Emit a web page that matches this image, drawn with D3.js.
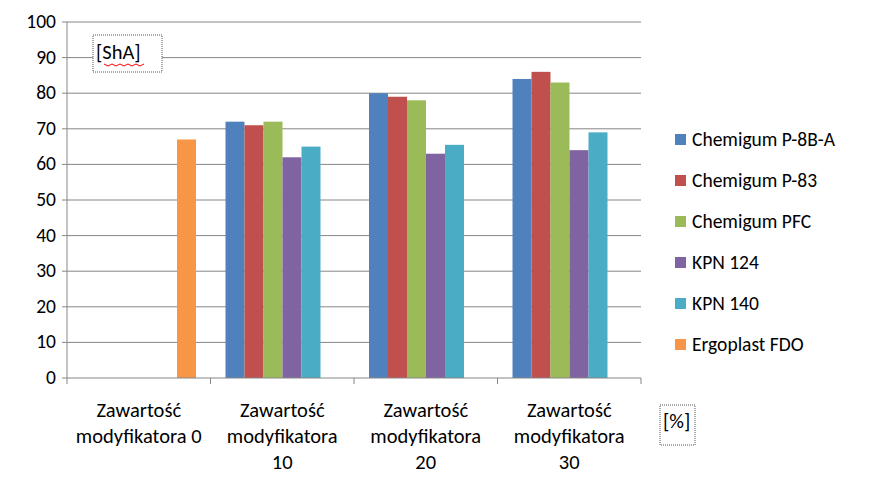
<!DOCTYPE html>
<html><head><meta charset="utf-8">
<script src="https://cdn.jsdelivr.net/npm/d3@7"></script>
<style>body{margin:0;background:#fff;font-family:Calibri,Carlito,"Liberation Sans",Arial,sans-serif}</style>
</head><body><svg id="c" width="879" height="487"></svg>
<script>
const categories = [["Zawartość","modyfikatora 0"],["Zawartość","modyfikatora","10"],["Zawartość","modyfikatora","20"],["Zawartość","modyfikatora","30"]];
const seriesNames = ["Chemigum P-8B-A","Chemigum P-83","Chemigum PFC","KPN 124","KPN 140","Ergoplast FDO"];
const colors = ["#4F81BD","#C0504D","#9BBB59","#8064A2","#4BACC6","#F79646"];
const values = [
  [null,72,80,84],
  [null,71,79,86],
  [null,72,78,83],
  [null,62,63,64],
  [null,65,65.5,69],
  [67,null,null,null]
];
const yTicks = [0,10,20,30,40,50,60,70,80,90,100];

const svg = d3.select("#c");
const L=67,R=641,T=22,B=378;
const y = d3.scaleLinear().domain([0,100]).range([B,T]);
const x0 = d3.scaleBand().domain(d3.range(4)).range([L,R]).paddingInner(0).paddingOuter(0);
const x1 = d3.scaleBand().domain(d3.range(6)).range([15,x0.bandwidth()-14.5]);

svg.append("g").selectAll("line").data(yTicks.slice(1)).join("line")
  .attr("x1",L).attr("x2",R).attr("y1",d=>y(d)).attr("y2",d=>y(d)).attr("stroke","#868686");
svg.append("g").selectAll("text").data(yTicks).join("text")
  .attr("x",L-11).attr("y",d=>y(d)+6).attr("text-anchor","end").attr("font-size",19.5).text(d=>d);
svg.append("g").selectAll("line").data(yTicks).join("line")
  .attr("x1",L-5).attr("x2",L).attr("y1",d=>y(d)).attr("y2",d=>y(d)).attr("stroke","#868686");

values.forEach((vals,s)=>{
  svg.append("g").selectAll("rect").data(vals.map((v,i)=>({v,i})).filter(d=>d.v!=null)).join("rect")
    .attr("x",d=>x0(d.i)+x1(s)).attr("width",x1.bandwidth())
    .attr("y",d=>y(d.v)).attr("height",d=>B-y(d.v)).attr("fill",colors[s]);
});

svg.append("line").attr("x1",L).attr("x2",L).attr("y1",T).attr("y2",B).attr("stroke","#868686");
svg.append("line").attr("x1",L).attr("x2",R).attr("y1",B).attr("y2",B).attr("stroke","#868686");
svg.append("g").selectAll("line").data(d3.range(5)).join("line")
  .attr("x1",d=>L+d*x0.bandwidth()).attr("x2",d=>L+d*x0.bandwidth()).attr("y1",B).attr("y2",B+6).attr("stroke","#868686");

categories.forEach((lines,i)=>{
  const t=svg.append("text").attr("text-anchor","middle").attr("font-size",20.5);
  lines.forEach((ln,k)=>t.append("tspan").attr("x",x0(i)+x0.bandwidth()/2).attr("y",417+k*26).text(ln));
});

const lg=svg.append("g");
seriesNames.forEach((n,i)=>{
  const yy=140+i*41;
  lg.append("rect").attr("x",675).attr("y",yy-6).attr("width",11).attr("height",11).attr("fill",colors[i]);
  lg.append("text").attr("x",692).attr("y",yy+6).attr("font-size",19.5).text(n);
});

svg.append("rect").attr("x",93).attr("y",35).attr("width",69).attr("height",37).attr("fill","#fff")
  .attr("stroke","#555").attr("stroke-dasharray","1,1");
svg.append("text").attr("x",96).attr("y",59).attr("font-size",20.5).text("[ShA]");
svg.append("path").attr("d",d3.range(104,146,4).map((xx,k)=>(k?"L":"M")+xx+","+(64+(k%2?2:0))).join(""))
  .attr("fill","none").attr("stroke","#e00").attr("stroke-width",1);
svg.append("rect").attr("x",660).attr("y",405).attr("width",35).attr("height",40).attr("fill","#fff")
  .attr("stroke","#555").attr("stroke-dasharray","1,1");
svg.append("text").attr("x",663).attr("y",428).attr("font-size",20.5).text("[%]");
</script></body></html>
